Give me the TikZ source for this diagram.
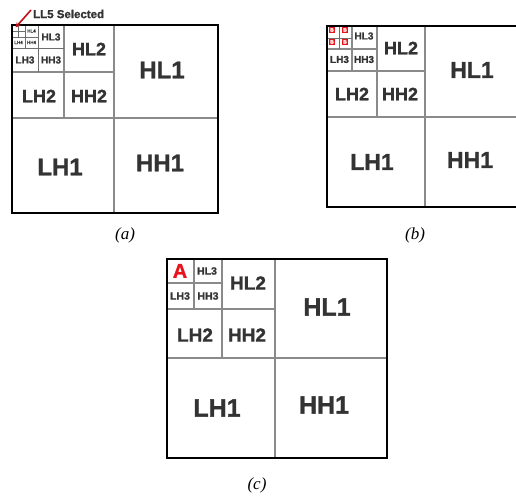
\documentclass[tikz,border=0pt]{standalone}
\usepackage{fontspec}
\setmainfont{Liberation Serif}
\newfontfamily\lab[BoldFeatures={FakeBold=1.2}]{Liberation Sans}
\usetikzlibrary{arrows.meta}
\definecolor{ink}{HTML}{333333}
\definecolor{sep}{HTML}{8A8A8A}
\definecolor{hot}{HTML}{E8141B}
\definecolor{pointer}{HTML}{C0101A}
\tikzset{
  frame/.style={draw=black, line width=1.6pt},
  split/.style={draw=sep, line width=1.1pt},
  fine/.style={draw=sep!80!black, line width=0.7pt},
  band/.style={text=ink, font=\lab\bfseries\fontsize{#1}{#1}\selectfont, inner sep=0pt},
  caption/.style={font=\itshape\fontsize{17}{17}\selectfont, inner sep=0pt},
  tag/.style={fill=hot, minimum size=6.5pt, inner sep=0pt,
    text=white, font=\lab\bfseries\fontsize{5}{5}\selectfont}
}
\begin{document}
\begin{tikzpicture}[x=1pt, y=-1pt]
\useasboundingbox (0,0) rectangle (516,502);

% ---------- (a) five-level decomposition ----------
\draw[split] (114,25) -- (114,213) (12,118) -- (218,118);
\draw[split] (64,25) -- (64,118) (12,72) -- (114,72);
\draw[fine] (38,25) -- (38,72) (12,48) -- (64,48);
\draw[fine] (25,25) -- (25,48) (12,37) -- (38,37);
\draw[fine] (18,25) -- (18,37) (12,31) -- (25,31);
\draw[frame] (12,25) rectangle (218,213);
\node[band=24] (aHL1) at (162,70) {HL1};
\node[band=24] (aHH1) at (160,163) {HH1};
\node[band=24] (aLH1) at (60,167) {LH1};
\node[band=18] (aHL2) at (89,49) {HL2};
\node[band=18] (aLH2) at (39,96) {LH2};
\node[band=18] (aHH2) at (89,96) {HH2};
\node[band=10] (aHL3) at (51,37) {HL3};
\node[band=10] (aLH3) at (25,60) {LH3};
\node[band=10] (aHH3) at (51,60) {HH3};
\node[band=4.5] (aHL4) at (31.5,31) {HL4};
\node[band=4.5] (aLH4) at (18.5,42.5) {LH4};
\node[band=4.5] (aHH4) at (31.5,42.5) {HH4};
\coordinate (aLL5) at (15.5,27.5);
\node[text=ink, font=\lab\bfseries\fontsize{11.5}{11.5}\selectfont, inner sep=0pt, anchor=west]
  (sel) at (33,14) {LL5 Selected};
\coordinate (selfoot) at (31,10);
\draw[pointer, line width=1.6pt, -{Stealth[length=5pt,width=5pt]}] (selfoot) -- (aLL5);
\node[caption] (capa) at (125,235) {(a)};

% ---------- (b) LL4 cells marked ----------
\draw[split] (425,26) -- (425,207) (327,117) -- (524,117);
\draw[split] (377,26) -- (377,117) (327,71) -- (425,71);
\draw[split] (352,26) -- (352,71) (327,49) -- (377,49);
\draw[fine] (339,26) -- (339,49) (327,38) -- (352,38);
\draw[frame] (327,26) rectangle (524,207);
\node[band=23] (bHL1) at (472,70) {HL1};
\node[band=23] (bHH1) at (470,160) {HH1};
\node[band=23] (bLH1) at (372,162) {LH1};
\node[band=18] (bHL2) at (401,48) {HL2};
\node[band=18] (bLH2) at (352,94) {LH2};
\node[band=18] (bHH2) at (400,94) {HH2};
\node[band=10] (bHL3) at (364,36) {HL3};
\node[band=10] (bLH3) at (339.5,59.5) {LH3};
\node[band=10] (bHH3) at (364,59.5) {HH3};
\node[tag] (b1) at (332,30) {B};
\node[tag] (b2) at (345,30) {B};
\node[tag] (b3) at (332,42) {B};
\node[tag] (b4) at (345,42) {B};
\node[caption] (capb) at (415,235) {(b)};

% ---------- (c) LL3 replaced by A ----------
\draw[split] (275,259) -- (275,458) (167,358) -- (387,358);
\draw[split] (222,259) -- (222,358) (167,309) -- (275,309);
\draw[split] (194,259) -- (194,309) (167,283) -- (222,283);
\draw[frame] (167,259) rectangle (387,458);
\node[band=25] (cHL1) at (327,307) {HL1};
\node[band=25] (cHH1) at (324,405) {HH1};
\node[band=25] (cLH1) at (217,408) {LH1};
\node[band=19] (cHL2) at (248,283) {HL2};
\node[band=19] (cLH2) at (195,335) {LH2};
\node[band=19] (cHH2) at (247,335) {HH2};
\node[band=10.5] (cHL3) at (207,271) {HL3};
\node[band=10.5] (cLH3) at (180,296) {LH3};
\node[band=10.5] (cHH3) at (208,296) {HH3};
\node[band=20, text=hot] (cA) at (180,271) {A};
\node[caption] (capc) at (257,485) {(c)};
\end{tikzpicture}
\end{document}
